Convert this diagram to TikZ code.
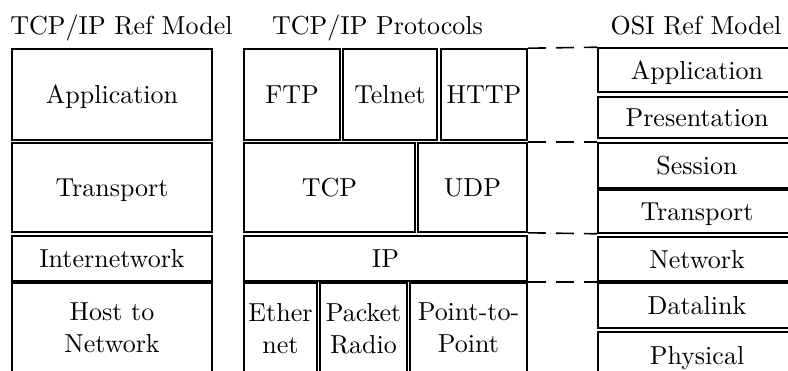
\documentclass[tikz,border=0pt]{standalone}
\usepackage{fontspec}
\setmainfont{lmroman10-regular}[Extension=.otf]
\newcommand\layerfont{\fontsize{26}{32}\selectfont}
\tikzset{
  layer/.style={draw, line width=1.6pt, inner sep=0pt, align=center,
    font=\layerfont, text depth=0pt},
  heading/.style={inner sep=0pt, font=\layerfont, anchor=base},
  mapline/.style={line width=1.6pt, dash pattern=on 18pt off 10pt},
}
\begin{document}
\begin{tikzpicture}[x=1pt,y=-1pt]
\useasboundingbox (0,0) rectangle (788,370);
\clip (0,0) rectangle (788,370);

% column headings
\node[heading] (h1) at (121.5,34) {TCP/IP Ref Model};
\node[heading] (h2) at (377.5,34) {TCP/IP Protocols};
\node[heading] (h3) at (696,34) {OSI Ref Model};

% TCP/IP reference model
\node[layer, minimum width=200pt, minimum height=91pt] (tapp) at (112,94.5) {Application};
\node[layer, minimum width=200pt, minimum height=89pt] (ttrans) at (112,187.5) {Transport};
\node[layer, minimum width=200pt, minimum height=45pt] (tinet) at (112,258.5) {Internetwork};
\node[layer, minimum width=200pt, minimum height=90pt] (thost) at (112,328) {Host to\\Network};

% TCP/IP protocols
\node[layer, minimum width=96pt, minimum height=91pt] (ftp) at (292,94.5) {FTP};
\node[layer, minimum width=94pt, minimum height=91pt] (telnet) at (390,94.5) {Telnet};
\node[layer, minimum width=86pt, minimum height=91pt] (http) at (484,94.5) {HTTP};
\node[layer, minimum width=171pt, minimum height=89pt] (tcp) at (329.5,187.5) {TCP};
\node[layer, minimum width=109pt, minimum height=89pt] (udp) at (472.5,187.5) {UDP};
\node[layer, minimum width=283pt, minimum height=45pt] (ip) at (385.5,258.5) {IP};
\node[layer, minimum width=73pt, minimum height=90pt] (ether) at (280.5,328) {Ether\\net};
\node[layer, minimum width=87pt, minimum height=90pt] (radio) at (363.5,328) {Packet\\Radio};
\node[layer, minimum width=117pt, minimum height=90pt] (ptp) at (468.5,328) {Point-to-\\Point};

% OSI reference model
\node[layer, minimum width=198pt, minimum height=44pt] (oapp) at (697,70) {Application};
\node[layer, minimum width=198pt, minimum height=41pt] (opres) at (697,117.5) {Presentation};
\node[layer, minimum width=198pt, minimum height=45pt] (osess) at (697,165.5) {Session};
\node[layer, minimum width=198pt, minimum height=43pt] (otrans) at (697,211.5) {Transport};
\node[layer, minimum width=198pt, minimum height=44pt] (onet) at (697,259) {Network};
\node[layer, minimum width=198pt, minimum height=45pt] (odl) at (697,305.5) {Datalink};
\node[layer, minimum width=198pt, minimum height=46pt] (ophys) at (697,355) {Physical};

% layer correspondence
\draw[mapline] (http.north east) -- (oapp.north west);
\draw[mapline] (udp.north east) -- (osess.north west);
\draw[mapline] (udp.south east) -- (otrans.south west);
\draw[mapline] (ip.south east) -- (onet.south west);
\end{tikzpicture}
\end{document}
